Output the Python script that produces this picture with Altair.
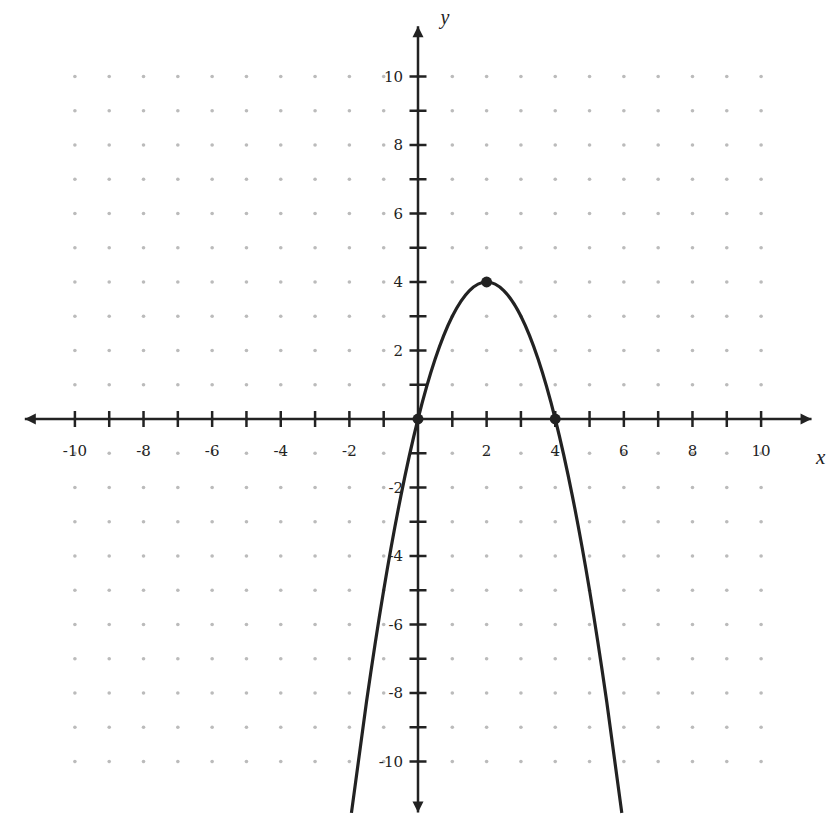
import altair as alt
import pandas as pd

# ---- data ----
GRID = list(range(-10, 11))                      # dotted grid positions
TICKS = [t for t in range(-10, 11) if t != 0]    # axis tick positions
LABELS = [-10, -8, -6, -4, -2, 2, 4, 6, 8, 10]   # labelled ticks

CURVE_X = [-1.94, -1.5, -1.0, -0.5, 0.0, 0.5, 1.0, 1.5, 2.0, 2.5, 3.0, 3.5, 4.0, 4.5, 5.0, 5.5, 5.94]
CURVE_Y = [-11.5, -8.25, -5.0, -2.25, 0.0, 1.75, 3.0, 3.75, 4.0, 3.75, 3.0, 1.75, 0.0, -2.25, -5.0, -8.25, -11.5]

KEY_X = [0, 2, 4]
KEY_Y = [0, 4, 0]

AXIS_X = [-11.46, 11.47]
AXIS_Y = [-11.49, 11.47]

INK = "#222222"
FONT = "DejaVu Serif"
NAME_FONT = "Liberation Serif"

xs = alt.Scale(domain=[-11.95, 11.95], nice=False, zero=False)
ys = alt.Scale(domain=[-12, 12], nice=False, zero=False)


def X(field):
    return alt.X(field, type="quantitative", scale=xs, axis=None)


def Y(field):
    return alt.Y(field, type="quantitative", scale=ys, axis=None)


grid_df = pd.DataFrame([(gx, gy) for gx in GRID for gy in GRID], columns=["gx", "gy"])
dots = alt.Chart(grid_df).mark_circle(size=13, color="#bbbbbb", opacity=1).encode(x=X("gx"), y=Y("gy"))

xaxis_df = pd.DataFrame({"a": [AXIS_X[0]], "b": [AXIS_X[1]], "z": [0]})
xaxis = alt.Chart(xaxis_df).mark_rule(color=INK, strokeWidth=2.5).encode(
    x=X("a"), x2="b", y=Y("z"))
yaxis_df = pd.DataFrame({"a": [AXIS_Y[0]], "b": [AXIS_Y[1]], "z": [0]})
yaxis = alt.Chart(yaxis_df).mark_rule(color=INK, strokeWidth=2.5).encode(
    y=Y("a"), y2="b", x=X("z"))

arrows_df = pd.DataFrame({
    "ax": [AXIS_X[1], AXIS_X[0], 0, 0],
    "ay": [0, 0, AXIS_Y[1], AXIS_Y[0]],
    "dir": ["r", "l", "u", "d"],
})
SHAPES = {
    "r": "M0,0 L-2,-1 L-2,1 Z",
    "l": "M0,0 L2,-1 L2,1 Z",
    "u": "M0,0 L-1,2 L1,2 Z",
    "d": "M0,0 L-1,-2 L1,-2 Z",
}
arrow_layers = [
    alt.Chart(arrows_df[arrows_df["dir"] == k]).mark_point(
        shape=p, size=121, filled=True, color=INK, opacity=1, strokeWidth=0
    ).encode(x=X("ax"), y=Y("ay"))
    for k, p in SHAPES.items()
]

xt_df = pd.DataFrame({"t": TICKS, "z": [0] * len(TICKS)})
xticks = alt.Chart(xt_df).mark_tick(orient="vertical", size=16, thickness=2.5, color=INK, opacity=1).encode(
    x=X("t"), y=Y("z"))
yticks = alt.Chart(xt_df).mark_tick(orient="horizontal", size=17, thickness=2.5, color=INK, opacity=1).encode(
    y=Y("t"), x=X("z"))

lab_df = pd.DataFrame({"t": LABELS, "z": [0] * len(LABELS), "s": [str(v) for v in LABELS]})
xlabels = alt.Chart(lab_df).mark_text(font=FONT, fontSize=15, color=INK, dy=32, align="center",
                                      baseline="middle").encode(x=X("t"), y=Y("z"), text="s")
ylabels = alt.Chart(lab_df).mark_text(font=FONT, fontSize=15, color=INK, dx=-15, align="right",
                                      baseline="middle").encode(y=Y("t"), x=X("z"), text="s")

name_df = pd.DataFrame({"nx": [AXIS_X[1], 0], "ny": [0, AXIS_Y[1]], "s": ["x", "y"]})
xname = alt.Chart(name_df.iloc[[0]]).mark_text(font=NAME_FONT, fontSize=21, fontStyle="italic", color=INK,
                                               dx=9, dy=45, align="center", baseline="alphabetic").encode(
    x=X("nx"), y=Y("ny"), text="s")
yname = alt.Chart(name_df.iloc[[1]]).mark_text(font=NAME_FONT, fontSize=20, fontStyle="italic", color=INK,
                                               dx=27, dy=-2, align="center", baseline="alphabetic").encode(
    x=X("nx"), y=Y("ny"), text="s")

curve_df = pd.DataFrame({"cx": CURVE_X, "cy": CURVE_Y, "o": list(range(len(CURVE_X)))})
curve = alt.Chart(curve_df).mark_line(color=INK, strokeWidth=3.2, interpolate="monotone").encode(
    x=X("cx"), y=Y("cy"), order="o")

key_df = pd.DataFrame({"kx": KEY_X, "ky": KEY_Y})
keys = alt.Chart(key_df).mark_circle(size=120, color=INK, opacity=1).encode(x=X("kx"), y=Y("ky"))

chart = alt.layer(
    dots, xaxis, yaxis, *arrow_layers, xticks, yticks, xlabels, ylabels, xname, yname, curve, keys
).properties(
    width=820, height=822, autosize=alt.AutoSizeParams(type="none"), padding=0, background="white"
).configure_view(stroke=None)

chart.save("out.html", embed_options={"renderer": "svg", "actions": False})
